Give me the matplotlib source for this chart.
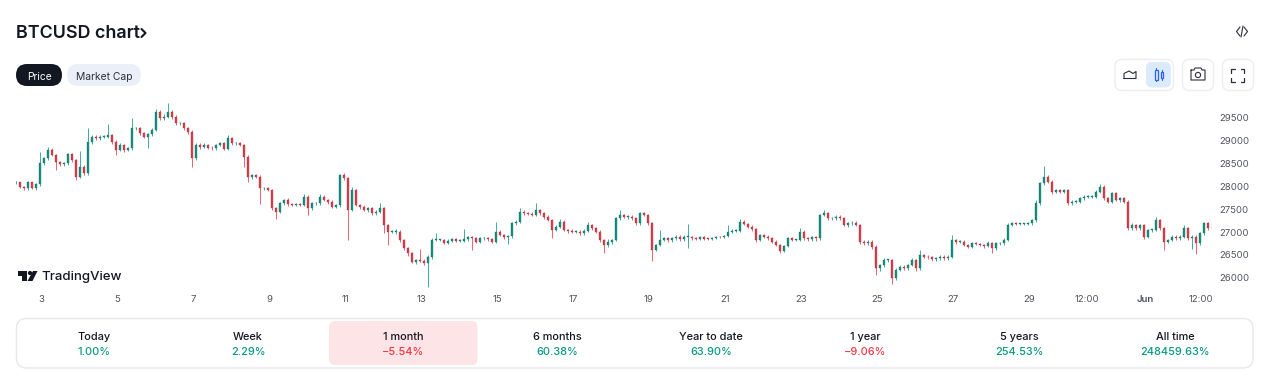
import matplotlib
matplotlib.use('Agg')

import matplotlib.pyplot as plt
import matplotlib.patches as patches
import numpy as np

plt.rcParams['font.family'] = ['Inter', 'DejaVu Sans']

closes_a = [28078, 27984, 27948, 28078, 27963, 28035, 28492, 28600, 28782, 28673,
            28528, 28470, 28492, 28688, 28564, 28202, 28419, 28274, 28963, 29072,
            29035, 29072, 29072, 29108, 28963, 28782, 28890, 28782, 28818, 29253,
            29253, 29144, 29072, 29122, 29217, 29615, 29470, 29507, 29615, 29507,
            29362, 29362, 29253, 29180, 28600, 28890, 28854, 28890]
closes_b = [28833, 28818, 28891, 28927, 28804, 29036, 28927, 28927, 28891, 28637,
            28202, 28239, 28202, 27948, 27948, 27912, 27513, 27441, 27622, 27695,
            27600, 27586, 27600, 27586, 27767, 27513, 27622, 27622, 27767, 27695,
            27659, 27550, 27586, 28238, 28166, 27477, 27912, 27586, 27550, 27477,
            27513, 27405, 27441, 27513, 27151, 27006, 27006, 27006, 26825, 26644,
            26535]
closes_c = [26354, 26390, 26376, 26318, 26463, 26826, 26826, 26826, 26768, 26811,
            26840, 26811, 26811, 26840, 26883, 26862, 26789, 26862, 26862, 26840,
            26789, 27007, 26934, 26898, 26912, 27188, 27224, 27442, 27405, 27391,
            27369, 27478, 27405, 27333, 27260, 27043, 27115, 27224, 27043, 27028,
            27007, 27007, 26970, 27028, 27152, 27079, 27007, 26826, 26717, 26789]
closes_d = [26826, 27297, 27369, 27333, 27333, 27297, 27188, 27405, 27369, 27188,
            26608, 26717, 26826, 26862, 26826, 26862, 26898, 26840, 26898, 26898,
            26862, 26840, 26883, 26855, 26847, 26862, 26891, 26883, 26912, 27007,
            27028, 27028, 27224, 27174, 27115, 27057, 26826, 26934, 26898, 26862,
            26789, 26717, 26593, 26695, 26862, 26826, 26826, 27007, 26862, 26840]
closes_e = [26884, 26862, 27370, 27406, 27297, 27297, 27334, 27297, 27152, 27188,
            27203, 27152, 26790, 26754, 26790, 26681, 26210, 26282, 26391, 26391,
            25992, 26174, 26246, 26210, 26282, 26391, 26210, 26500, 26464, 26449,
            26406, 26427, 26464, 26427, 26464, 26826, 26790, 26790, 26717, 26681,
            26754, 26739, 26717, 26695, 26754, 26645, 26754, 26754, 26826, 27152]
closes_f = [27188, 27173, 27173, 27173, 27188, 27260, 27623, 28058, 28203, 28094,
            27876, 27913, 27876, 27913, 27623, 27659, 27659, 27731, 27768, 27768,
            27768, 27876, 27985, 27731, 27659, 27840, 27695, 27731, 27659, 27079,
            27151, 27079, 27151, 26898, 27043, 27043, 27260, 27079, 26789, 26825,
            26898, 26861, 26898, 27079, 26861, 26898, 26753, 26970, 27188, 27079,
            27093]

wick_up_a = [30, 20, 20, 40, 20, 30, 250, 30, 70, 40, 30, 20, 30, 40, 30, 20, 340, 30, 290, 30,
             40, 30, 40, 230, 30, 30, 40, 30, 40, 230, 40, 30, 30, 40, 40, 60, 40, 50, 200, 40,
             30, 40, 30, 30, 30, 50, 40, 40]
wick_up_b = [30, 30, 30, 30, 30, 70, 40, 30, 30, 30, 30, 30, 30, 30, 30, 30, 30, 30, 40, 30,
             40, 30, 30, 30, 70, 30, 30, 30, 70, 30, 30, 30, 30, 30, 40, 20, 70, 30, 30, 30,
             30, 30, 30, 110, 30, 30, 30, 70, 30, 30, 30]
wick_up_c = [30, 30, 230, 30, 30, 40, 160, 30, 30, 30, 30, 30, 30, 220, 30, 30, 30, 30, 30, 30,
             30, 200, 30, 30, 30, 40, 30, 70, 30, 30, 40, 160, 30, 30, 30, 30, 30, 50, 30, 30,
             30, 30, 30, 30, 70, 30, 30, 30, 30, 50]
wick_up_d = [30, 40, 110, 30, 30, 30, 30, 40, 30, 30, 30, 30, 220, 30, 30, 40, 40, 30, 30, 275,
             20, 20, 20, 20, 20, 20, 20, 30, 20, 145, 30, 30, 50, 30, 30, 30, 30, 30, 30, 30,
             30, 30, 30, 30, 30, 30, 30, 70, 30, 30]
wick_up_e = [30, 30, 30, 70, 30, 30, 40, 30, 30, 30, 30, 30, 30, 30, 30, 30, 30, 30, 40, 30,
             30, 40, 30, 40, 30, 40, 30, 110, 30, 30, 30, 30, 30, 30, 30, 110, 30, 30, 30, 30,
             20, 20, 20, 20, 50, 30, 30, 30, 50, 40]
wick_up_f = [30, 30, 30, 30, 40, 30, 70, 40, 232, 30, 30, 30, 30, 30, 30, 30, 40, 30, 30, 40,
             30, 30, 58, 30, 30, 30, 30, 30, 30, 30, 40, 30, 30, 30, 30, 30, 70, 30, 30, 30,
             30, 30, 30, 70, 30, 30, 30, 30, 36, 30, 30]

wick_down_a = [40, 30, 40, 30, 30, 50, 40, 30, 30, 30, 180, 30, 40, 30, 40, 70, 30, 40, 30, 40,
               30, 30, 30, 30, 40, 110, 30, 40, 30, 30, 30, 40, 30, 250, 40, 30, 40, 30, 30, 40,
               30, 30, 40, 40, 180, 30, 40, 30]
wick_down_b = [30, 30, 40, 30, 30, 30, 40, 30, 30, 220, 110, 40, 30, 350, 30, 30, 40, 160, 30, 30,
               40, 30, 30, 30, 30, 145, 30, 40, 30, 30, 40, 30, 30, 40, 30, 650, 30, 30, 40, 30,
               40, 30, 30, 30, 180, 290, 30, 40, 40, 30, 60]
wick_down_c = [30, 40, 30, 40, 508, 40, 30, 30, 30, 30, 30, 30, 30, 30, 30, 250, 30, 30, 30, 30,
               30, 30, 30, 40, 160, 40, 30, 30, 30, 30, 30, 30, 30, 40, 30, 180, 30, 30, 30, 40,
               30, 30, 30, 30, 30, 40, 30, 40, 170, 40]
wick_down_d = [40, 30, 30, 30, 40, 30, 30, 30, 30, 30, 232, 30, 30, 30, 40, 40, 30, 40, 40, 254,
               30, 20, 20, 20, 20, 20, 20, 20, 20, 30, 30, 30, 30, 30, 30, 30, 40, 30, 30, 30,
               30, 30, 40, 30, 30, 30, 30, 30, 30, 30]
wick_down_e = [30, 50, 30, 30, 30, 30, 30, 30, 30, 40, 30, 30, 40, 30, 30, 40, 145, 50, 40, 40,
               123, 40, 30, 40, 30, 30, 50, 30, 30, 30, 40, 30, 30, 30, 30, 30, 40, 30, 30, 30,
               20, 20, 20, 40, 30, 94, 30, 30, 30, 30]
wick_down_f = [30, 30, 30, 30, 30, 30, 40, 30, 30, 30, 50, 30, 30, 30, 40, 30, 30, 30, 30, 30,
               30, 30, 30, 40, 30, 30, 30, 40, 30, 30, 40, 30, 30, 40, 30, 40, 30, 30, 181, 30,
               30, 30, 30, 30, 40, 232, 240, 30, 30, 30, 30]

price_ticks = [26000, 26500, 27000, 27500, 28000, 28500, 29000, 29500]
time_labels = ['3', '5', '7', '9', '11', '13', '15', '17', '19', '21', '23', '25', '27', '29',
               '12:00', 'Jun', '12:00']
time_bars = [6.25, 25.25, 44.25, 63.25, 82.25, 101.25, 120.25, 139.25, 158.25, 177.25,
             196.25, 215.25, 234.25, 253.25, 267.75, 282.25, 296.25]

period_labels = ['Today', 'Week', '1 month', '6 months', 'Year to date', '1 year', '5 years', 'All time']
period_values = ['1.00%', '2.29%', '−5.54%', '60.38%', '63.90%', '−9.06%', '254.53%', '248459.63%']
period_centers = [94, 248, 403, 557, 711, 865, 1019, 1175]

GREEN = '#089981'
RED = '#F23645'
DARK = '#131722'

closes = np.array(closes_a + closes_b + closes_c + closes_d + closes_e + closes_f, dtype=float)
wick_up = np.array(wick_up_a + wick_up_b + wick_up_c + wick_up_d + wick_up_e + wick_up_f, dtype=float)
wick_down = np.array(wick_down_a + wick_down_b + wick_down_c + wick_down_d + wick_down_e + wick_down_f, dtype=float)
assert len(closes) == len(wick_up) == len(wick_down)

opens = np.r_[closes[0], closes[:-1]]
highs = np.maximum(opens, closes) + wick_up
lows = np.minimum(opens, closes) - wick_down
bars = np.arange(len(closes))
colors = [GREEN if c >= o else RED for o, c in zip(opens, closes)]

fig = plt.figure(figsize=(12.8, 3.85), dpi=100)

# page layer in pixel coordinates, y pointing down
page = fig.add_axes([0, 0, 1, 1])
page.set_xlim(0, 1280)
page.set_ylim(385, 0)
page.axis('off')


def round_box(x0, y0, x1, y1, radius, face='none', edge='none', lw=1.0):
    box = patches.FancyBboxPatch(
        (x0, y0), x1 - x0, y1 - y0,
        boxstyle=f'round,pad=0,rounding_size={radius}',
        facecolor=face, edgecolor=edge, linewidth=lw
    )
    page.add_patch(box)


def stroke(xs, ys, color=DARK, lw=1.0):
    page.plot(xs, ys, color=color, linewidth=lw, solid_capstyle='round', solid_joinstyle='round')


# header
page.text(16, 33, 'BTCUSD chart', fontsize=12.9, fontweight='semibold', color=DARK, va='center', ha='left')
stroke([141.5, 145.5, 141.5], [29, 33, 37], lw=1.5)
round_box(16, 64, 62, 86, 11, face=DARK)
page.text(39, 76.5, 'Price', fontsize=7.4, color='white', ha='center', va='center')
round_box(67, 64, 141, 86, 11, face='#EBEFF8')
page.text(104, 76.5, 'Market Cap', fontsize=7.4, color='#2A2E39', ha='center', va='center')

# embed icon
stroke([1240, 1236.5, 1240], [27, 31.5, 36], color='#2A2E39', lw=0.8)
stroke([1244, 1247.5, 1244], [27, 31.5, 36], color='#2A2E39', lw=0.8)
stroke([1243, 1241], [26, 37], color='#2A2E39', lw=0.8)

# toolbar
round_box(1115, 59.5, 1173.5, 90.5, 7, face='white', edge='#EDEEF2')
round_box(1146, 62, 1171, 87.5, 6, face='#DCEBFB')
round_box(1182.5, 59.5, 1213.5, 90.5, 7, face='white', edge='#EDEEF2')
round_box(1222.5, 59.5, 1253.5, 90.5, 7, face='white', edge='#EDEEF2')

stroke([1124, 1124, 1129, 1133, 1136, 1136, 1124], [78.5, 73.5, 71, 73.5, 71.5, 78.5, 78.5], color='#2A2E39', lw=0.8)
page.add_patch(patches.Rectangle((1155, 69.5), 2.6, 10, facecolor='none', edgecolor='#2962FF', linewidth=0.9))
stroke([1156.3, 1156.3], [68, 69.5], color='#2962FF', lw=0.8)
stroke([1156.3, 1156.3], [79.5, 81], color='#2962FF', lw=0.8)
page.add_patch(patches.Rectangle((1160.5, 71.5), 2.6, 6, facecolor='none', edgecolor='#2962FF', linewidth=0.9))
stroke([1161.8, 1161.8], [69.5, 71.5], color='#2962FF', lw=0.8)
stroke([1161.8, 1161.8], [77.5, 79.5], color='#2962FF', lw=0.8)

stroke([1191, 1194, 1195, 1201, 1202, 1205, 1205, 1191, 1191],
       [70, 70, 68, 68, 70, 70, 80, 80, 70], color='#2A2E39', lw=0.8)
page.add_patch(patches.Circle((1198, 75), 2.6, facecolor='none', edgecolor='#2A2E39', linewidth=0.8))

for sx, sy in [(-1, -1), (1, -1), (1, 1), (-1, 1)]:
    stroke([1237.5 + sx * 6.5, 1237.5 + sx * 6.5, 1237.5 + sx * 3],
           [75 + sy * 2.5, 75 + sy * 6.5, 75 + sy * 6.5], color='#2A2E39', lw=0.9)

# watermark
page.add_patch(patches.Polygon([(17.5, 271), (27, 271), (27, 281), (22, 281), (22, 275.5), (17.5, 275.5)],
                               facecolor=DARK, edgecolor='none'))
page.add_patch(patches.Circle((30, 273), 2.1, facecolor=DARK, edgecolor='none'))
page.add_patch(patches.Polygon([(33, 271), (37.5, 271), (32.5, 281), (27.5, 281)], facecolor=DARK, edgecolor='none'))
page.text(41, 277, 'TradingView', fontsize=9.5, fontweight='medium', color=DARK, ha='left', va='center')

# period table
round_box(16.5, 318.5, 1253, 368, 10, face='white', edge='#E6E8EE')
round_box(329, 321, 477.5, 365, 6, face='#FDE4E6')
for label, value, cx in zip(period_labels, period_values, period_centers):
    page.text(cx, 336.5, label, fontsize=7.9, fontweight='medium', color=DARK, ha='center', va='center')
    page.text(cx, 352, value, fontsize=7.9, fontweight='medium',
              color=RED if value.startswith('−') else GREEN, ha='center', va='center')

# candles, one bar is 4 px wide
ax = fig.add_axes([16 / 1280, 1 - 290 / 385, 1196 / 1280, 190 / 385])
ax.patch.set_alpha(0)
ax.vlines(bars, lows, highs, colors=colors, linewidth=0.7, alpha=0.8)
ax.bar(bars, np.maximum(np.abs(closes - opens), 14), bottom=np.minimum(opens, closes), width=0.36,
       color=colors, edgecolor='#2A2E39', linewidth=0.2)

ax.set_xlim(0, 299)
ax.set_ylim(25739, 29870)
ax.set_xticks(time_bars)
ax.set_xticklabels(time_labels)
ax.set_yticks(price_ticks)
ax.yaxis.tick_right()
ax.tick_params(axis='both', length=0, labelsize=6.9, labelcolor='#50535E')
ax.tick_params(axis='x', pad=3.5)
ax.tick_params(axis='y', pad=5.5)
for label, text in zip(ax.get_xticklabels(), time_labels):
    if text == 'Jun':
        label.set_fontweight('semibold')
for spine in ax.spines.values():
    spine.set_visible(False)

fig.savefig('out.png', dpi=100, facecolor='white')
plt.close()
